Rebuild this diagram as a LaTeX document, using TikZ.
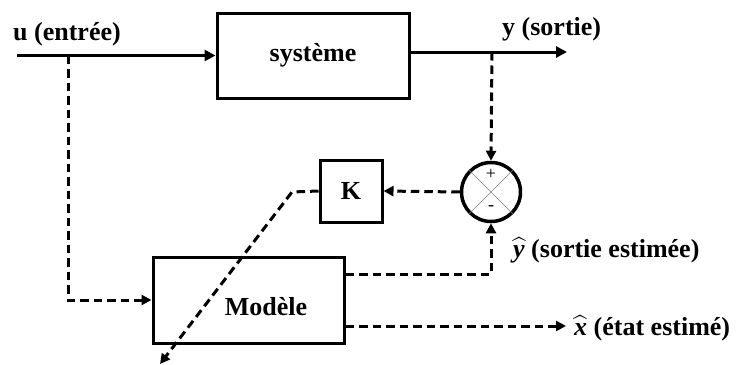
\documentclass[tikz,border=0pt]{standalone}
\usepackage{amsmath}
\usepackage{fontspec}
\setmainfont{Liberation Serif}
\usetikzlibrary{arrows.meta}
\newcommand{\hatlet}[1]{$\widehat{\text{\bfseries\itshape #1}}$}
\begin{document}
\begin{tikzpicture}[x=1pt,y=-1pt,
  lbl/.style={font=\fontsize{26}{30}\selectfont\bfseries, inner sep=0pt},
  blk/.style={draw, line width=3pt, rectangle, inner sep=0pt, font=\fontsize{26}{30}\selectfont\bfseries},
  sig/.style={line width=3pt, -{Triangle[length=11pt,width=11pt]}},
  dsig/.style={line width=3pt, dash pattern=on 8.5pt off 5pt, -{Triangle[length=10pt,width=10pt]}},
  sgn/.style={font=\fontsize{18}{20}\selectfont, inner sep=0pt}
]
\useasboundingbox (0,0) rectangle (741,364);
% blocks
\node[blk, minimum width=192pt, minimum height=85pt] (sys) at (313,55.5) {système};
\node[blk, minimum width=62pt, minimum height=62pt] (K) at (351,191) {K};
\node[draw, circle, line width=3.5pt, minimum size=59pt, inner sep=0pt] (sum) at (491,192) {};
\node[blk, minimum width=191pt, minimum height=86pt] (mod) at (248.5,300) {};
\node[lbl] (modt) at (266,307) {Modèle};
% sum junction details
\draw[gray, line width=0.6pt] (sum.45) -- (sum.225) (sum.135) -- (sum.315);
\node[sgn] (plus) at (491,174) {+};
\node[sgn] (minus) at (491,208) {-};
% coordinates
\coordinate (uin) at (17,55.5);
\coordinate (ub) at (68,55.5);
\coordinate (yo) at (567,52);
\coordinate (yb) at (492,52);
\coordinate (kb) at (292,192);
\coordinate (kend) at (160,364);
\coordinate (xo) at (566,326);
% connectors
\draw[sig] (uin) -- (sys.west);
\draw[sig] (sys.east |- yo) -- (yo);
\draw[dsig] (ub) |- (mod.west);
\draw[dsig] (yb) -- (sum.north);
\draw[dsig] (sum.west) -- (K.east);
\draw[dsig] (K.west) -- (kb) -- (kend);
\draw[dsig] (mod.east |- 0,274) -| (sum.south);
\draw[dsig] (mod.east |- xo) -- (xo);
% labels
\node[lbl, anchor=base west] (ul) at (13,40) {u (entrée)};
\node[lbl, anchor=base west] (yl) at (502,35) {y (sortie)};
\node[lbl, anchor=base west] (yhl) at (513,257) {\hatlet{y} (sortie estimée)};
\node[lbl, anchor=base west] (xhl) at (574,335) {\hatlet{x} (état estimé)};
\end{tikzpicture}
\end{document}
